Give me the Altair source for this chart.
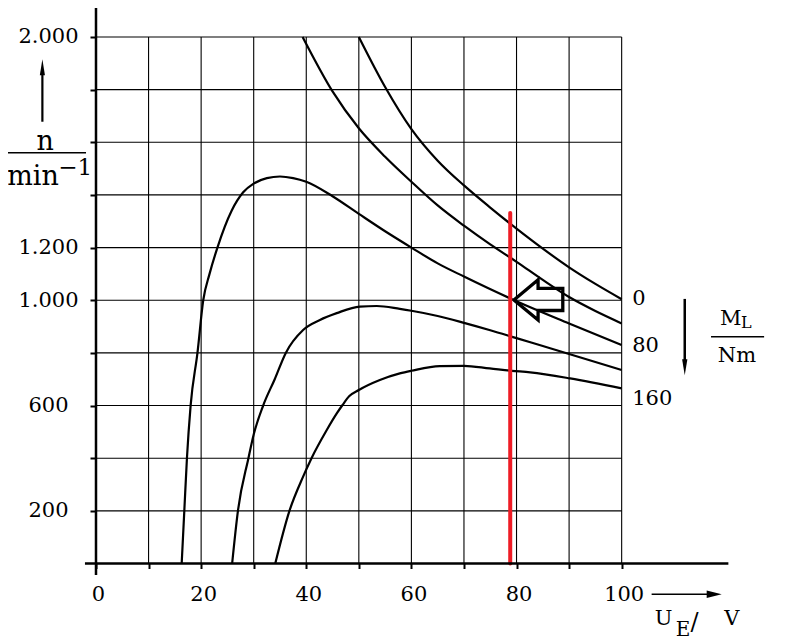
import altair as alt
import pandas as pd

# ---------------- data ----------------
U_M0 = [50.0, 55.0, 60.0, 65.0, 70.0, 75.0, 80.0, 85.0, 90.0, 95.0, 100.0]
N_M0 = [2000, 1810, 1650, 1530, 1436, 1352, 1272, 1196, 1125, 1062, 1004]

U_M40 = [39.3, 45.0, 50.0, 55.0, 60.0, 65.0, 70.0, 75.0, 80.0, 85.0, 90.0, 95.0, 100.0]
N_M40 = [2000, 1793, 1653, 1545, 1450, 1360, 1283, 1212, 1146, 1077, 1012, 959, 912]

U_M80 = [16.3, 16.8, 17.3, 18.0, 19.3, 20.4, 21.6, 23.1, 25.8, 28.0, 30.0, 32.5, 35.0,
         37.5, 40.0, 45.0, 50.0, 55.0, 60.0, 65.0, 70.0, 78.8, 90.0, 100.0]
N_M80 = [0, 200, 400, 600, 800, 1000, 1100, 1200, 1340, 1410, 1443, 1464, 1470,
         1464, 1450, 1395, 1328, 1262, 1200, 1140, 1090, 1007, 912, 830]

U_M120 = [25.9, 27.0, 29.0, 30.0, 31.8, 34.0, 36.1, 39.4, 42.6, 45.8, 50.2, 53.4, 57.8,
          60.0, 65.0, 70.0, 75.0, 80.0, 85.0, 90.0, 100.0]
N_M120 = [0, 200, 400, 490, 600, 700, 800, 887, 925, 951, 976, 978, 967,
          960, 940, 914, 886, 856, 826, 796, 735]

U_M160 = [34.1, 36.8, 39.4, 41.0, 43.9, 45.8, 46.9, 48.2, 50.0, 54.0, 57.8, 60.0, 65.4, 70.0,
          74.9, 79.1, 82.6, 90.2, 100.0]
N_M160 = [0, 200, 330, 400, 507, 570, 602, 636, 659, 697, 722, 732, 750, 751,
          741, 732, 726, 703, 665]

LOADS = [0, 40, 80, 120, 160]
CURVES_U = [U_M0, U_M40, U_M80, U_M120, U_M160]
CURVES_N = [N_M0, N_M40, N_M80, N_M120, N_M160]

GRID_U = [10, 20, 30, 40, 50, 60, 70, 80, 90, 100]
GRID_N = [200, 400, 600, 800, 1000, 1200, 1400, 1600, 1800, 2000]
X_TICKS = [0, 10, 20, 30, 40, 50, 60, 70, 80, 90, 100]
Y_LABELED = [200, 600, 1000, 1200, 2000]
Y_LABEL_TEXT = ["200", "600", "1.000", "1.200", "2.000"]

RED_U = 78.8
RED_N_TOP = 1331

ARROW_U = [79.5, 84.1, 84.1, 88.8, 88.8, 84.1, 84.1, 79.5]
ARROW_N = [1001, 1078, 1045, 1045, 961, 961, 925, 1001]

# annotation texts
TXT = ["n", "min", "\u22121", "0", "80", "160", "M", "L", "Nm", "U", "E", "/", "V"]
TXT_U = [-11.3, -16.9, -7.2, 102.0, 102.0, 102.0, 118.7, 122.7, 118.3, 106.3, 110.3, 113.1, 119.5]
TXT_N = [1571, 1438, 1476, 982, 803, 602, 906, 893, 765, -233.6, -275, -251, -233.6]
TXT_FS = [27, 27, 23, 21, 21, 21, 21, 16, 21, 21, 20, 24, 21]

# ---------------- tables ----------------
curves = pd.concat(
    [pd.DataFrame({"U": u, "n": n, "M": m}) for u, n, m in zip(CURVES_U, CURVES_N, LOADS)],
    ignore_index=True,
)

grid = pd.DataFrame(
    [{"x": g, "x2": g, "y": 0, "y2": 2000} for g in GRID_U]
    + [{"x": 0, "x2": 100, "y": g, "y2": g} for g in GRID_N]
)

rules = pd.DataFrame([
    {"x": 0, "x2": 0, "y": -44, "y2": 2110, "w": 2.5},
    {"x": -2.1, "x2": 120.3, "y": 0, "y2": 0, "w": 2.5},
    {"x": -10.2, "x2": -10.2, "y": 1678, "y2": 1874, "w": 2.2},
    {"x": -17.1, "x2": -1.9, "y": 1560, "y2": 1560, "w": 1.6},
    {"x": 112.0, "x2": 112.0, "y": 1005, "y2": 760, "w": 2.5},
    {"x": 117.0, "x2": 127.1, "y": 861.5, "y2": 861.5, "w": 1.6},
    {"x": 105.7, "x2": 117.0, "y": -117, "y2": -117, "w": 1.4},
])

heads = pd.DataFrame([
    {"x": -10.2, "y": 1885, "s": "M0,-1L0.32,1L-0.32,1Z", "z": 256},
    {"x": 112.0, "y": 745, "s": "M0,1L0.33,-1L-0.33,-1Z", "z": 256},
    {"x": 117.6, "y": -117, "s": "M1,0L-1,-0.5L-1,0.5Z", "z": 225},
])

red = pd.DataFrame({"x": [RED_U], "y": [0], "y2": [RED_N_TOP]})

arrow_line = pd.DataFrame({"x": ARROW_U, "y": ARROW_N, "i": list(range(len(ARROW_U)))})
arrow_fill = pd.DataFrame({
    "x": [ARROW_U[0], ARROW_U[1], ARROW_U[2], ARROW_U[3]],
    "y": [ARROW_N[0], ARROW_N[1], ARROW_N[2], ARROW_N[3]],
    "y2": [ARROW_N[7], ARROW_N[6], ARROW_N[5], ARROW_N[4]],
    "i": [0, 1, 2, 3],
})

texts = pd.DataFrame({"t": TXT, "x": TXT_U, "y": TXT_N, "fs": TXT_FS})

# ---------------- chart ----------------
FONT = "DejaVu Serif"
xs = alt.Scale(domain=[0, 120], nice=False, zero=False)
ys = alt.Scale(domain=[0, 2110], nice=False, zero=False)

lab_vals = "[" + ",".join(str(v) for v in Y_LABELED) + "]"
lab_txt = "[" + ",".join("'" + t + "'" for t in Y_LABEL_TEXT) + "]"
y_expr = f"indexof({lab_vals}, datum.value) >= 0 ? {lab_txt}[indexof({lab_vals}, datum.value)] : ''"

x_axis = alt.Axis(
    values=X_TICKS, labelExpr="datum.value % 20 == 0 ? datum.label : ''",
    domain=False, grid=False, tickSize=5, tickWidth=2, tickColor="black",
    labelFont=FONT, labelFontSize=21, labelColor="black", labelPadding=15,
    labelFlush=False, labelOverlap=False, labelOffset=2, title=None,
)
y_axis = alt.Axis(
    values=GRID_N, labelExpr=y_expr,
    domain=False, grid=False, tickSize=6, tickWidth=2, tickColor="black",
    labelFont=FONT, labelFontSize=21, labelColor="black", labelPadding=42,
    labelAlign="center", labelBaseline="middle", labelFlush=False,
    labelOverlap=False, title=None,
)


def X(field):
    return alt.X(field, scale=xs, axis=x_axis, title=None)


def Y(field):
    return alt.Y(field, scale=ys, axis=y_axis, title=None)


grid_layer = alt.Chart(grid).mark_rule(color="black", strokeWidth=1.1).encode(
    x=X("x:Q"), x2="x2:Q", y=Y("y:Q"), y2="y2:Q",
)

curve_layer = alt.Chart(curves).mark_line(
    color="black", strokeWidth=2.2, interpolate="monotone"
).encode(x=X("U:Q"), y=Y("n:Q"), detail="M:N")

red_layer = alt.Chart(red).mark_rule(color="#ee1c25", strokeWidth=4, strokeCap="round").encode(
    x=X("x:Q"), y=Y("y:Q"), y2="y2:Q",
)

arrow_fill_layer = alt.Chart(arrow_fill).mark_area(color="white", opacity=1).encode(
    x=X("x:Q"), y=Y("y:Q"), y2="y2:Q", order="i:Q",
)
arrow_line_layer = alt.Chart(arrow_line).mark_line(
    color="black", strokeWidth=3.3, strokeJoin="miter"
).encode(x=X("x:Q"), y=Y("y:Q"), order="i:Q")

rule_layer = alt.Chart(rules).mark_rule(color="black").encode(
    x=X("x:Q"), x2="x2:Q", y=Y("y:Q"), y2="y2:Q",
    strokeWidth=alt.StrokeWidth("w:Q", scale=None),
)

head_layer = alt.Chart(heads).mark_point(filled=True, color="black", opacity=1, strokeWidth=0).encode(
    x=X("x:Q"), y=Y("y:Q"),
    shape=alt.Shape("s:N", scale=None),
    size=alt.Size("z:Q", scale=None),
)

text_layer = alt.Chart(texts).mark_text(
    align="left", baseline="alphabetic", font=FONT, color="black"
).encode(
    x=X("x:Q"), y=Y("y:Q"), text="t:N",
    size=alt.Size("fs:Q", scale=None),
)

chart = alt.layer(
    grid_layer, curve_layer, red_layer, arrow_fill_layer, arrow_line_layer,
    rule_layer, head_layer, text_layer,
).properties(
    width=630.8, height=555.5,
    autosize=alt.AutoSizeParams(type="none"),
    padding={"left": 88, "top": 0, "right": 45, "bottom": 76},
    background="white",
).configure_view(stroke=None)

chart.save("out.html", embed_options={"renderer": "svg", "actions": False})
